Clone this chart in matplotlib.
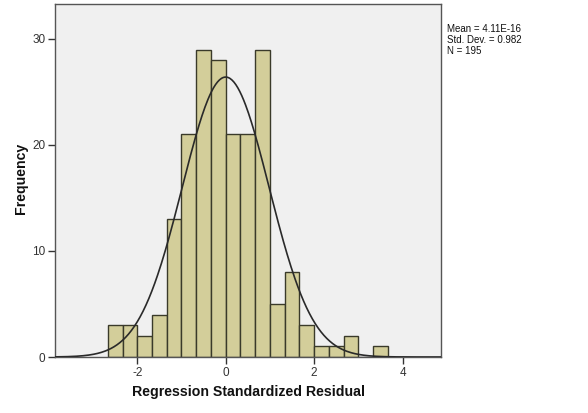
import numpy as np
import matplotlib
matplotlib.use("Agg")
import matplotlib.pyplot as plt

bin_width = 1/3
bin_start = -8/3
counts = [3, 3, 2, 4, 13, 21, 29, 28, 21, 21, 29, 5, 8, 3, 1, 1, 2, 0, 1]
mean_val = 4.11e-16
std_val = 0.982
n_val = 195
x_ticks = [-2, 0, 2, 4]
y_ticks = [0, 10, 20, 30]

edges = bin_start + bin_width * np.arange(len(counts) + 1)

fig = plt.figure(figsize=(5.88, 4.13), dpi=100)
ax = fig.add_axes([55/588, 56/413, (441-55)/588, (357-4)/413])
ax.set_facecolor("#F0F0F0")
ax.bar(edges[:-1], counts, width=bin_width, align="edge",
       color="#D3CE9A", edgecolor="#3A3A2A", linewidth=1.0, zorder=2)

xs = np.linspace(-3.86, 4.87, 400)
pdf = n_val * bin_width / (std_val * np.sqrt(2*np.pi)) * np.exp(-0.5*((xs-mean_val)/std_val)**2)
ax.plot(xs, pdf, color="#2A2A2A", linewidth=1.2, zorder=3)

ax.set_xlim(-3.86, 4.87)
ax.set_ylim(0, 33.3)
ax.set_xticks(x_ticks)
ax.set_xticklabels([str(t) for t in x_ticks], family="Liberation Sans")
ax.set_yticks(y_ticks)
ax.set_yticklabels([str(t) for t in y_ticks], family="Liberation Sans")
ax.tick_params(axis="both", direction="out", length=5, width=1, color="#333333",
               labelsize=8.5, labelcolor="#333333", pad=2)
for s in ax.spines.values():
    s.set_color("#555555")
    s.set_linewidth(1.0)

ax.set_xlabel("Regression Standardized Residual", fontsize=10.2, fontweight="bold",
              family="Liberation Sans", color="#111111")
ax.xaxis.set_label_coords(0.5, -0.08)
ax.set_ylabel("Frequency", fontsize=10.2, fontweight="bold",
              family="Liberation Sans", color="#111111")
ax.yaxis.set_label_coords(-0.0712, 0.507)

fig.text(447/588, 1 - 24.5/413,
         "Mean = 4.11E-16\nStd. Dev. = 0.982\nN = 195",
         fontsize=7, family="Liberation Sans", va="top", ha="left", linespacing=1.07, color="#111111")

fig.savefig("out.png", dpi=100)
